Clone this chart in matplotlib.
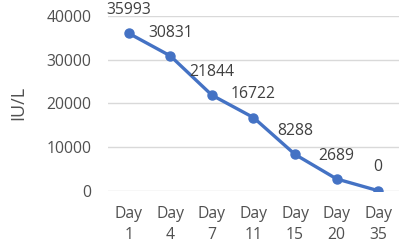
import matplotlib.pyplot as plt

# data
days = ['Day\n1', 'Day\n4', 'Day\n7', 'Day\n11', 'Day\n15', 'Day\n20', 'Day\n35']
values = [35993, 30831, 21844, 16722, 8288, 2689, 0]
yticks = [0, 10000, 20000, 30000, 40000]

plt.rcParams['font.family'] = ['Open Sans', 'DejaVu Sans']

fig = plt.figure(figsize=(4.03, 2.47), dpi=100)
ax = fig.add_axes([0.268, 0.228, 0.722, 0.708])

x = list(range(len(days)))
ax.plot(x, values, color='#4472C4', lw=2.4, marker='o', ms=6.5, zorder=3)

for xi, v in zip(x, values):
    ax.annotate(str(v), (xi, v), xytext=(0, 11), textcoords='offset points',
                ha='center', va='bottom', fontsize=11.3, color='#404040')

ax.set_xlim(-0.5, len(days) - 0.5)
ax.set_ylim(0, 40000)
ax.set_yticks(yticks)
ax.set_xticks(x)
ax.set_xticklabels(days, fontsize=11.3, color='#505050', linespacing=1.45)
ax.tick_params(axis='y', labelsize=11.3, labelcolor='#505050', length=0, pad=12)
ax.tick_params(axis='x', length=0, pad=11)
ax.grid(axis='y', color='#d9d9d9', lw=1)
ax.set_axisbelow(True)
for s in ax.spines.values():
    s.set_visible(False)
ax.set_ylabel('IU/L', fontsize=13, color='#505050', labelpad=14)

fig.savefig('out.png', dpi=100)
